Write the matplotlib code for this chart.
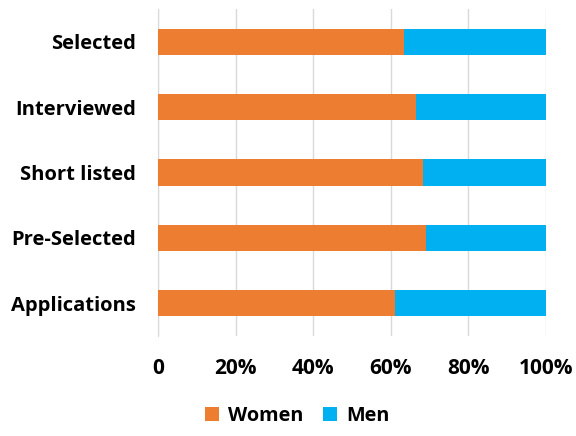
import matplotlib
matplotlib.use("Agg")
import matplotlib.pyplot as plt

categories = ["Applications", "Pre-Selected", "Short listed", "Interviewed", "Selected"]
women = [61.2, 69.1, 68.4, 66.4, 63.4]
men = [100 - w for w in women]
xticks = [0, 20, 40, 60, 80, 100]
xtick_labels = ["0", "20%", "40%", "60%", "80%", "100%"]

plt.rcParams['font.family'] = ['Open Sans', 'DejaVu Sans']
plt.rcParams['font.weight'] = 'bold'

fig = plt.figure(figsize=(5.76, 4.36), dpi=100)
ax = fig.add_axes([158/576, 1 - 336/436, (546-158)/576, (336-9)/436])

y = list(range(len(categories)))
ax.barh(y, women, height=0.4, color="#ED7D31", label="Women", zorder=3)
ax.barh(y, men, left=women, height=0.4, color="#00B0F0", label="Men", zorder=3)

ax.set_xlim(0, 100)
ax.set_ylim(-0.5, len(categories) - 0.5)
ax.set_yticks(y)
ax.set_yticklabels(categories, fontsize=14.5, fontweight='bold')
ax.set_xticks(xticks)
ax.set_xticklabels(xtick_labels, fontsize=15, fontweight='bold')
ax.grid(axis='x', color='#D9D9D9', linewidth=1, zorder=0)
for s in ['top', 'right', 'bottom']:
    ax.spines[s].set_visible(False)
ax.spines['left'].set_color('#D9D9D9')
ax.tick_params(axis='y', length=0, pad=16)
ax.tick_params(axis='x', length=0, pad=16)

fig.legend(loc='center', bbox_to_anchor=(297/576, 1 - 416/436), ncol=2, frameon=False,
           handlelength=0.7, handleheight=0.7, columnspacing=1.0, handletextpad=0.45,
           prop={'weight': 'bold', 'size': 14.3})

fig.savefig("out.png", dpi=100)
